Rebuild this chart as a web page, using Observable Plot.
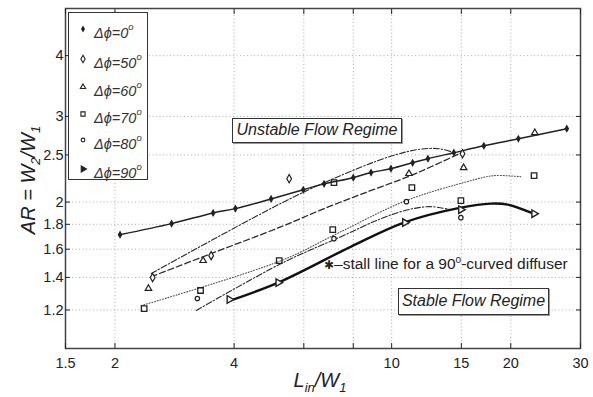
<!DOCTYPE html>
<html><head><meta charset="utf-8">
<script src="https://cdn.jsdelivr.net/npm/d3@7"></script>
<script src="https://cdn.jsdelivr.net/npm/@observablehq/plot@0.6"></script>
<style>
body{margin:0;background:#fff;}
#wrap{position:relative;width:593px;height:397px;font-family:"Liberation Sans",Arial,sans-serif;color:#222;overflow:hidden;}
#wrap svg{display:block;}
.ov{position:absolute;white-space:nowrap;}
.lbl{font-style:italic;font-size:20px;line-height:20px;}
.sb{font-size:13px;position:relative;top:5px;}
.box{border:1.5px solid #333;background:#fff;box-shadow:1px 1px 0 #999;font-style:italic;font-size:16px;text-align:center;box-sizing:border-box;}
#legend{left:68px;top:12px;width:80px;height:168px;border:1.5px solid #333;background:#fff;box-sizing:border-box;}
.row{position:absolute;left:0;height:20px;line-height:20px;font-style:italic;font-size:14.5px;color:#333;}
.row svg{position:absolute;left:8px;top:4px;}
.row span.t{position:absolute;left:25px;}
.row sup{font-size:9.5px;position:relative;top:-2px;}
</style></head><body><div id="wrap"></div>
<script>
// axis ticks
const xTicks = [1.5, 2, 4, 6, 8, 10, 15, 20, 30];
const yTicks = [1.2, 1.4, 1.6, 1.8, 2, 2.5, 3, 4];
const xGrid = [2, 4, 6, 8, 10, 15, 20];
const yGrid = [1.2, 1.4, 1.6, 1.8, 2, 2.5, 3, 4];

// measured points, L_in/W_1 (x) and AR (y)
const phi0X = [2.06, 2.78, 3.54, 4.03, 4.96, 5.98, 6.75, 8.0, 8.87, 9.96, 11.3, 12.35, 14.36, 17.1, 20.9, 27.7];
const phi0Y = [1.714, 1.806, 1.90, 1.939, 2.03, 2.12, 2.18, 2.245, 2.30, 2.342, 2.409, 2.456, 2.526, 2.61, 2.699, 2.83];
const phi50X = [2.49, 3.50, 5.51, 15.1];
const phi50Y = [1.399, 1.552, 2.234, 2.514];
const phi60X = [2.43, 3.34, 11.06, 15.2, 23.0];
const phi60Y = [1.328, 1.516, 2.288, 2.353, 2.777];
const phi70X = [2.37, 3.29, 5.20, 7.15, 7.1, 11.25, 14.96, 22.9];
const phi70Y = [1.208, 1.316, 1.516, 2.192, 1.755, 2.141, 2.013, 2.266];
const phi80X = [3.23, 7.15, 10.9, 14.96];
const phi80Y = [1.267, 1.682, 2.004, 1.858];
const phi90X = [3.89, 5.17, 10.8, 14.96, 22.9];
const phi90Y = [1.261, 1.366, 1.815, 1.929, 1.893];

// fitted curves
const fitAX = [2.47, 5.54, 8.18, 10.2, 11.8, 13.24, 14.36];
const fitAY = [1.426, 2.032, 2.342, 2.50, 2.568, 2.574, 2.526];
const fitBX = [2.47, 3.50, 5.26, 6.75, 8.71, 11.0, 12.57, 15.2];
const fitBY = [1.405, 1.567, 1.780, 1.939, 2.101, 2.255, 2.364, 2.538];
const fitCX = [2.33, 5.26, 7.37, 10.87, 15.85, 18.1, 21.2];
const fitCY = [1.225, 1.516, 1.731, 2.013, 2.213, 2.266, 2.255];
const fitDX = [3.21, 5.26, 7.45, 9.40, 11.0, 12.57, 14.1];
const fitDY = [1.197, 1.495, 1.698, 1.849, 1.929, 1.957, 1.929];
const stallX = [3.91, 5.17, 7.9, 10.74, 14.96, 17.8, 19.65, 22.5];
const stallY = [1.255, 1.366, 1.62, 1.815, 1.948, 1.985, 1.976, 1.902];

const legendLabels = ["0", "50", "60", "70", "80", "90"];

const pts = (xs, ys) => xs.map((x, i) => ({x, y: ys[i]}));
const lineOpts = {x: "x", y: "y", curve: "catmull-rom", stroke: "#2a2a2a"};

const chart = Plot.plot({
  width: 593, height: 397,
  marginLeft: 65, marginRight: 13, marginTop: 8, marginBottom: 49,
  x: {type: "log", domain: [1.5, 30], label: null},
  y: {type: "log", domain: [1, 5], label: null},
  style: {fontFamily: "'Liberation Sans', Arial, sans-serif", fontSize: "14.5px", color: "#222", background: "white"},
  marks: [
    Plot.gridX(xGrid, {stroke: "#777", strokeOpacity: 0.6, strokeDasharray: "1,2.5"}),
    Plot.gridY(yGrid, {stroke: "#777", strokeOpacity: 0.6, strokeDasharray: "1,2.5"}),
    Plot.line(pts(fitAX, fitAY), {...lineOpts, strokeWidth: 1.1, strokeDasharray: "6,2,1.5,2"}),
    Plot.line(pts(fitBX, fitBY), {...lineOpts, strokeWidth: 1.3, strokeDasharray: "6,3"}),
    Plot.line(pts(fitCX, fitCY), {...lineOpts, stroke: "#555", strokeWidth: 1.1, strokeDasharray: "1,1.8"}),
    Plot.line(pts(fitDX, fitDY), {...lineOpts, strokeWidth: 1.1, strokeDasharray: "6,2,1.5,2"}),
    Plot.line(pts(stallX, stallY), {...lineOpts, stroke: "#111", strokeWidth: 2.4}),
    Plot.line(pts(phi0X, phi0Y), {...lineOpts, stroke: "#222", strokeWidth: 1.5}),
    Plot.dot(pts(phi0X, phi0Y), {x: "x", y: "y", symbol: "diamond", r: 2.5, fill: "#222"}),
    Plot.dot(pts(phi50X, phi50Y), {x: "x", y: "y", symbol: "diamond", r: 2.5, fill: "white", stroke: "#222", strokeWidth: 1.2}),
    Plot.dot(pts(phi60X, phi60Y), {x: "x", y: "y", symbol: "triangle2", r: 3.1, stroke: "#222", strokeWidth: 1.2}),
    Plot.dot(pts(phi70X, phi70Y), {x: "x", y: "y", symbol: "square2", r: 3.5, stroke: "#222", strokeWidth: 1.3}),
    Plot.dot(pts(phi80X, phi80Y), {x: "x", y: "y", symbol: "circle", r: 2.2, fill: "white", stroke: "#222", strokeWidth: 1.2}),
    Plot.dot(pts(phi90X, phi90Y), {x: "x", y: "y", symbol: "triangle", r: 2.8, rotate: 90, fill: "white", stroke: "#222", strokeWidth: 1.4}),
    Plot.frame({stroke: "#444", strokeWidth: 1.5}),
    Plot.axisX(xTicks, {anchor: "bottom", tickSize: 5, dy: -5, tickFormat: () => "", label: null}),
    Plot.axisX(xTicks, {anchor: "top", tickSize: 5, dy: 5, tickFormat: () => "", label: null}),
    Plot.axisY(yTicks, {anchor: "left", tickSize: 5, dx: 5, tickFormat: () => "", label: null}),
    Plot.axisY(yTicks, {anchor: "right", tickSize: 5, dx: -5, tickFormat: () => "", label: null}),
    Plot.axisX(xTicks, {anchor: "bottom", tickSize: 0, tickPadding: 9, tickFormat: d => String(d), label: null, fill: "#222"}),
    Plot.axisY(yTicks, {anchor: "left", tickSize: 0, tickPadding: 2, tickFormat: d => String(d), label: null, fill: "#222"})
  ]
});

const wrap = document.getElementById("wrap");
wrap.appendChild(chart);

function addDiv(cls, style, html) {
  const d = document.createElement("div");
  d.className = "ov " + cls;
  d.setAttribute("style", style);
  d.innerHTML = html;
  wrap.appendChild(d);
  return d;
}

// axis labels
addDiv("lbl", "left:29px;top:180px;transform:translate(-50%,-50%) rotate(-90deg);", "AR = W<span class='sb'>2</span>/W<span class='sb'>1</span>");
addDiv("lbl", "left:320px;top:381px;transform:translate(-50%,-50%);", "L<span class='sb'>in</span>/W<span class='sb'>1</span>");

// regime boxes
addDiv("box", "left:232px;top:118px;width:170px;height:25px;line-height:22px;", "Unstable Flow Regime");
addDiv("box", "left:398px;top:288px;width:151px;height:27px;line-height:24px;", "Stable Flow Regime");

// stall line annotation
addDiv("", "left:324px;top:251px;font-size:15.5px;line-height:17px;color:#222;", "<span style=\"font-family:'DejaVu Sans';font-size:12px;\">✱</span>–stall line for a 90<sup style='font-size:10px;'>o</sup>-curved diffuser");

// legend
const legend = addDiv("", "", "");
legend.id = "legend";
const symTypes = [
  {t: d3.symbolDiamond, s: 14, fill: "#222", stroke: "none"},
  {t: d3.symbolDiamond, s: 16, fill: "white", stroke: "#222"},
  {t: d3.symbolTriangle2, s: 20, fill: "none", stroke: "#222"},
  {t: d3.symbolSquare2, s: 22, fill: "none", stroke: "#222"},
  {t: d3.symbolCircle, s: 11, fill: "white", stroke: "#222"},
  {t: d3.symbolTriangle, s: 16, fill: "#222", stroke: "#222", rot: 90}
];
const rowTops = [6, 36, 64, 91, 117, 146];
legendLabels.forEach((lab, i) => {
  const st = symTypes[i];
  const r = document.createElement("div");
  r.className = "row";
  r.style.top = rowTops[i] + "px";
  const path = d3.symbol(st.t, st.s)();
  r.innerHTML = `<svg width="12" height="12" viewBox="-6 -6 12 12"><path d="${path}" fill="${st.fill}" stroke="${st.stroke}" stroke-width="1.1" transform="rotate(${st.rot || 0})"/></svg><span class="t">Δϕ=${lab}<sup>o</sup></span>`;
  legend.appendChild(r);
});
</script>
</body></html>
